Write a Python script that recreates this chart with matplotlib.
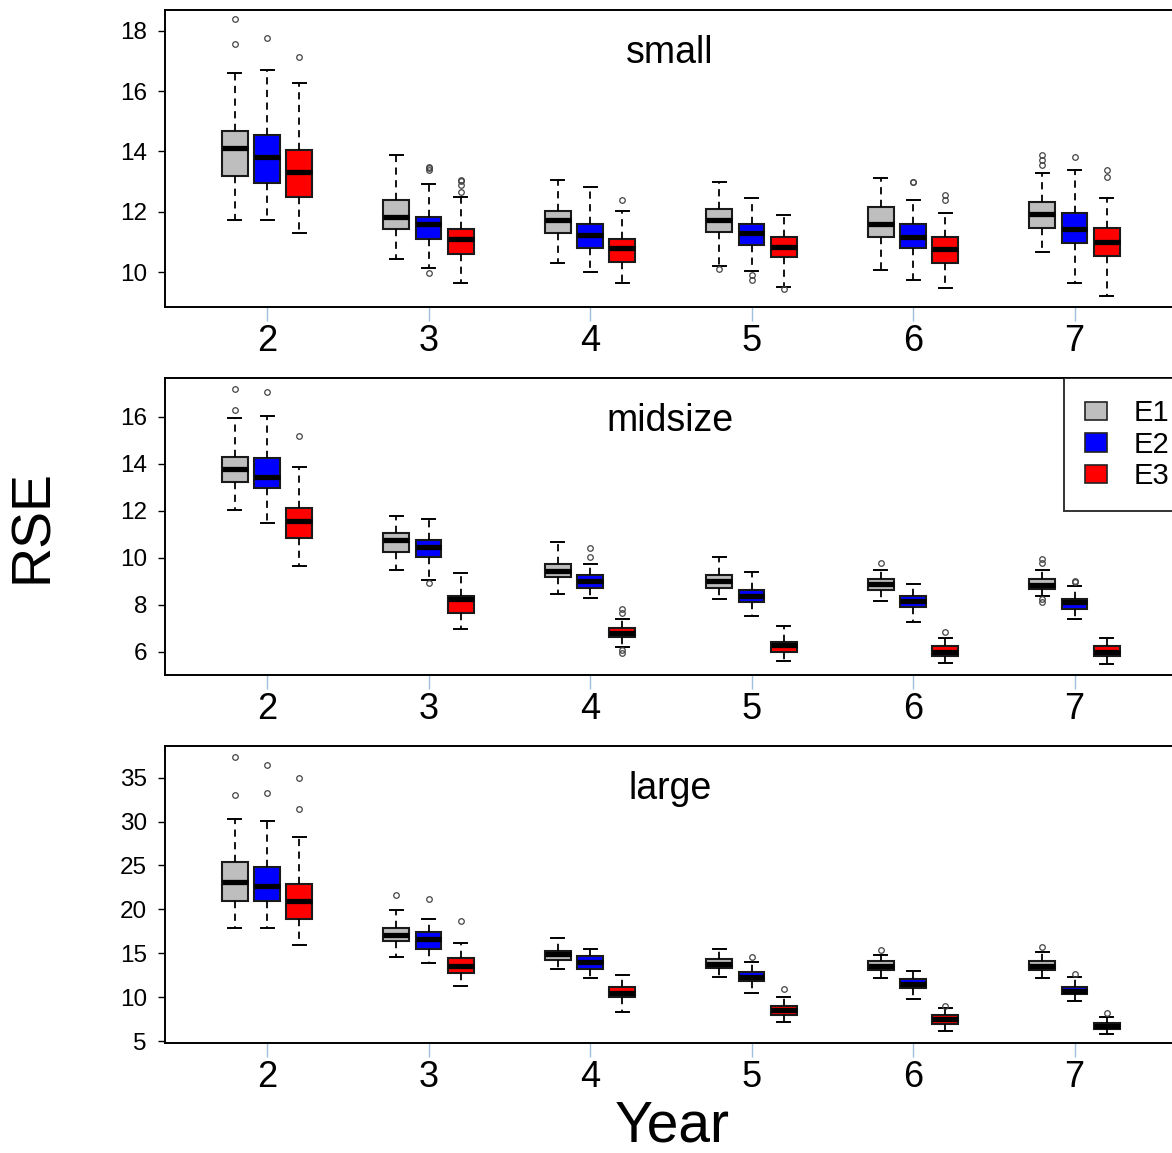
import matplotlib
matplotlib.use("Agg")
import matplotlib.pyplot as plt
from matplotlib.patches import Patch

plt.rcParams['font.family'] = ['Liberation Sans', 'DejaVu Sans']

years = [2, 3, 4, 5, 6, 7]
groups = ["E1", "E2", "E3"]
colors = ["#bebebe", "#0000ff", "#ff0000"]

# (whislo, q1, med, q3, whishi) per year
small_e1 = [(11.73, 13.20, 14.13, 14.68, 16.59), (10.43, 11.42, 11.84, 12.39, 13.88),
            (10.30, 11.29, 11.73, 12.03, 13.06), (10.22, 11.34, 11.73, 12.09, 13.00),
            (10.08, 11.16, 11.60, 12.15, 13.13), (10.68, 11.46, 11.93, 12.34, 13.28)]
small_e2 = [(11.73, 12.95, 13.83, 14.55, 16.70), (10.13, 11.10, 11.60, 11.84, 12.91),
            (10.00, 10.79, 11.24, 11.60, 12.81), (10.05, 10.90, 11.29, 11.60, 12.45),
            (9.74, 10.79, 11.18, 11.60, 12.39), (9.64, 10.98, 11.42, 11.97, 13.39)]
small_e3 = [(11.29, 12.50, 13.33, 14.05, 16.28), (9.64, 10.61, 11.10, 11.42, 12.50),
            (9.64, 10.35, 10.79, 11.10, 12.03), (9.50, 10.50, 10.85, 11.16, 11.90),
            (9.47, 10.30, 10.76, 11.16, 11.95), (9.22, 10.54, 11.01, 11.48, 12.45)]
small_e1_out = [[18.38, 17.55], [], [], [10.12], [], [13.88, 13.72, 13.55]]
small_e2_out = [[17.75], [13.50, 13.45, 13.40, 9.99], [], [9.91, 9.74], [13.00, 12.98], [13.83]]
small_e3_out = [[17.14], [13.06, 13.03, 12.89, 12.67], [12.39], [9.45], [12.56, 12.39], [13.39, 13.17]]

mid_e1 = [(12.03, 13.21, 13.77, 14.30, 15.96), (9.48, 10.26, 10.75, 11.06, 11.79),
          (8.46, 9.17, 9.45, 9.73, 10.68), (8.23, 8.70, 9.02, 9.26, 10.04),
          (8.17, 8.63, 8.87, 9.08, 9.48), (8.37, 8.67, 8.84, 9.08, 9.48)]
mid_e2 = [(11.46, 12.98, 13.45, 14.23, 16.04), (9.05, 10.04, 10.44, 10.75, 11.63),
          (8.30, 8.70, 9.02, 9.26, 9.73), (7.52, 8.13, 8.35, 8.63, 9.40),
          (7.28, 7.91, 8.14, 8.37, 8.87), (7.38, 7.80, 8.10, 8.23, 8.80)]
mid_e3 = [(9.65, 10.85, 11.56, 12.13, 13.85), (6.95, 7.66, 8.23, 8.37, 9.36),
          (6.21, 6.64, 6.81, 7.00, 7.38), (5.62, 6.00, 6.27, 6.43, 7.11),
          (5.53, 5.83, 6.00, 6.26, 6.60), (5.46, 5.83, 5.99, 6.24, 6.57)]
mid_e1_out = [[17.17, 16.29], [], [], [], [9.76], [9.93, 9.79, 8.23, 8.10]]
mid_e2_out = [[17.06], [8.91], [10.40, 10.04], [], [], [9.01, 8.98]]
mid_e3_out = [[15.18], [], [7.80, 7.66, 6.07, 5.96], [], [6.83], []]

large_e1 = [(17.84, 20.95, 23.15, 25.43, 30.29), (14.60, 16.39, 17.08, 17.84, 19.93),
            (13.17, 14.23, 14.95, 15.29, 16.77), (12.33, 13.28, 13.77, 14.31, 15.48),
            (12.14, 13.09, 13.58, 14.11, 14.80), (12.14, 13.09, 13.58, 14.11, 15.11)]
large_e2 = [(17.84, 20.95, 22.69, 24.79, 30.10), (13.85, 15.48, 16.62, 17.38, 18.90),
            (12.14, 13.17, 14.03, 14.68, 15.45), (10.43, 11.87, 12.25, 12.83, 14.03),
            (9.75, 11.00, 11.49, 12.03, 12.98), (9.59, 10.35, 10.73, 11.12, 12.33)]
large_e3 = [(15.94, 18.87, 20.98, 22.89, 28.21), (11.27, 12.71, 13.58, 14.42, 16.20),
            (8.27, 9.98, 10.45, 11.12, 12.52), (7.20, 7.96, 8.53, 9.02, 9.98),
            (6.17, 6.94, 7.47, 7.96, 8.73), (5.80, 6.37, 6.74, 7.09, 7.70)]
large_e1_out = [[37.32, 33.03], [21.63], [], [], [15.37], [15.74]]
large_e2_out = [[36.45, 33.29], [21.18], [], [14.54], [], [12.60]]
large_e3_out = [[35.00, 31.40], [18.67], [], [10.89], [9.02], [8.16]]

panels = [
    ("small", [small_e1, small_e2, small_e3], [small_e1_out, small_e2_out, small_e3_out],
     (8.84, 18.685), [10, 12, 14, 16, 18]),
    ("midsize", [mid_e1, mid_e2, mid_e3], [mid_e1_out, mid_e2_out, mid_e3_out],
     (5.01, 17.63), [6, 8, 10, 12, 14, 16]),
    ("large", [large_e1, large_e2, large_e3], [large_e1_out, large_e2_out, large_e3_out],
     (4.74, 38.61), [5, 10, 15, 20, 25, 30, 35]),
]

W, H = 1172, 1153
fig = plt.figure(figsize=(W / 100, H / 100), dpi=100)

ax_px = [(10, 307.3), (378.3, 675), (746, 1043.3)]
left, right = 165, 1175

for (name, series, outs, ylim, yticks), (top, bot) in zip(panels, ax_px):
    ax = fig.add_axes([left / W, 1 - bot / H, (right - left) / W, (bot - top) / H])
    for g in range(3):
        stats = []
        for i in range(len(years)):
            lo, q1, med, q3, hi = series[g][i]
            stats.append(dict(whislo=lo, q1=q1, med=med, q3=q3, whishi=hi,
                              fliers=outs[g][i]))
        pos = [5 * i + (g - 1) for i in range(len(years))]
        ax.bxp(stats, positions=pos, widths=0.8, capwidths=0.4,
               showfliers=True, patch_artist=True, manage_ticks=False,
               boxprops=dict(facecolor=colors[g], edgecolor="#1a1a1a", linewidth=1.5),
               medianprops=dict(color="black", linewidth=3.8, solid_capstyle="butt"),
               whiskerprops=dict(color="black", linewidth=1.3, linestyle=(0, (4, 3))),
               capprops=dict(color="black", linewidth=1.4),
               flierprops=dict(marker="o", markersize=4, markerfacecolor="none",
                               markeredgecolor="#444444", markeredgewidth=0.9))
    ax.set_xlim(-3.16, 28.11)
    ax.set_ylim(*ylim)
    ax.set_yticks(yticks)
    ax.set_xticks([5 * i for i in range(len(years))])
    ax.set_xticklabels([str(y) for y in years])
    ax.tick_params(axis="y", length=5, width=1, color="black", labelsize=17.5, pad=8)
    ax.tick_params(axis="x", length=10, width=1, color="#9fbfdf", labelsize=26, pad=2)
    for s in ax.spines.values():
        s.set_linewidth(1.4)
    ax.text(0.5, 1 - 53 / (bot - top), name, transform=ax.transAxes,
            ha="center", va="baseline", fontsize=27)
    if name == "midsize":
        handles = [Patch(facecolor=c, edgecolor="#222222", linewidth=1.2, label=l)
                   for c, l in zip(colors, groups)]
        leg = ax.legend(handles=handles, loc="upper left",
                        bbox_to_anchor=(1064 / W, 1 - top / H),
                        bbox_transform=fig.transFigure, borderaxespad=0,
                        fontsize=21, frameon=True, fancybox=False,
                        handlelength=0.75, handleheight=0.62,
                        handletextpad=0.9, borderpad=0.72, labelspacing=0.12)
        leg.get_frame().set_edgecolor("black")
        leg.get_frame().set_linewidth(1.4)

fig.text(33 / W, 1 - 526 / H, "RSE", rotation=90, ha="center", va="center", fontsize=40)
fig.text(672 / W, 1 - 1141 / H, "Year", ha="center", va="baseline", fontsize=41)

fig.savefig("out.png", dpi=100)
